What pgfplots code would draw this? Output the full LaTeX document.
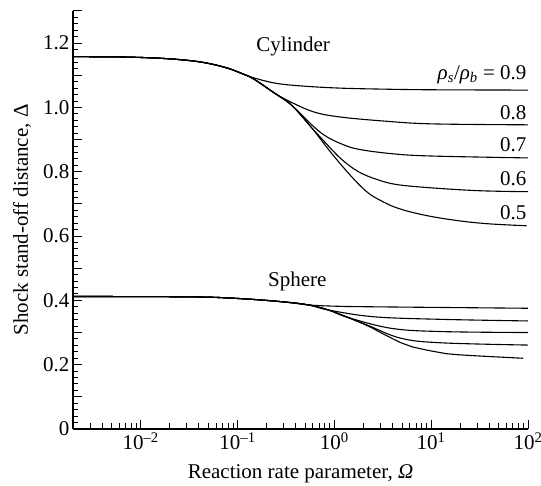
\documentclass[border=0pt]{standalone}
\usepackage{fontspec}
\setmainfont{Liberation Serif}
\usepackage{pgfplots}
\pgfplotsset{compat=1.18}

\newcommand{\fs}{\rmfamily\fontsize{21}{25}\selectfont}

\begin{document}
\begin{tikzpicture}[font=\fs]
% page frame around the axis
\path[use as bounding box] (-73pt,-57pt) rectangle (468pt,429pt);
\begin{axis}[
  at={(0pt,0pt)}, anchor=south west,
  scale only axis, width=455pt, height=418pt,
  xmode=log, xmin=0.002, xmax=100,
  ymin=0, ymax=1.3,
  axis lines*=left,
  axis line style={line width=1.8pt},
  tick style={line width=1pt, black},
  major tick length=9pt, minor tick length=5.5pt,
  tick align=inside,
  xtick={0.01,0.1,1,10,100},
  xticklabels={10\textsuperscript{–2},10\textsuperscript{–1},10\textsuperscript{0},10\textsuperscript{1},10\textsuperscript{2}},
  minor xtick={0.003,0.004,0.005,0.006,0.007,0.008,0.009,
               0.02,0.03,0.04,0.05,0.06,0.07,0.08,0.09,
               0.2,0.3,0.4,0.5,0.6,0.7,0.8,0.9,
               2,3,4,5,6,7,8,9,
               20,30,40,50,60,70,80,90},
  ytick={0,0.2,0.4,0.6,0.8,1.0,1.2},
  yticklabels={0,0.2,0.4,0.6,0.8,1.0,1.2},
  minor ytick={0,0.02,...,1.31},
  extra y ticks={0.1,0.3,0.5,0.7,0.9,1.1,1.3},
  extra y tick labels={},
  extra y tick style={major tick length=9pt},
  tick label style={font=\fs},
  label style={font=\fs},
  xlabel={Reaction rate parameter, \textit{Ω}},
  ylabel={Shock stand-off distance, Δ},
  xlabel style={at={(axis description cs:0.5,-0.1196)}, anchor=base},
  ylabel style={at={(axis description cs:-0.099,0.5)}, anchor=base},
  clip=true,
  cycle list={{black, solid, mark=none}},
  every axis plot/.append style={line width=1.1pt, smooth, tension=0.6},
]

% ---------------- Cylinder ----------------
% rho_s/rho_b = 0.9
\addplot coordinates {(0.002,1.158) (0.0063,1.157) (0.0158,1.153) (0.0316,1.146)
  (0.0501,1.137) (0.0794,1.122) (0.112,1.105) (0.148,1.092) (0.251,1.075)
  (0.501,1.066) (1.175,1.060) (3.162,1.057) (10,1.055) (100,1.054)};
% 0.8
\addplot coordinates {(0.002,1.158) (0.0063,1.157) (0.0158,1.153) (0.0316,1.146)
  (0.0501,1.137) (0.0794,1.122) (0.112,1.105) (0.148,1.088) (0.24,1.045)
  (0.359,1.016) (0.631,0.985) (1.175,0.970) (3.162,0.958) (10,0.949) (100,0.946)};
% 0.7
\addplot coordinates {(0.002,1.158) (0.0063,1.157) (0.0158,1.153) (0.0316,1.146)
  (0.0501,1.137) (0.0794,1.122) (0.112,1.105) (0.148,1.088) (0.24,1.045)
  (0.359,1.008) (0.575,0.948) (0.794,0.913) (1.175,0.887) (1.778,0.870)
  (3.98,0.856) (10,0.849) (100,0.843)};
% 0.6
\addplot coordinates {(0.002,1.158) (0.0063,1.157) (0.0158,1.153) (0.0316,1.146)
  (0.0501,1.137) (0.0794,1.122) (0.112,1.105) (0.148,1.088) (0.24,1.045)
  (0.359,1.008) (0.575,0.939) (0.794,0.893) (1.175,0.840) (1.778,0.800)
  (2.818,0.775) (4.47,0.760) (10,0.750) (31.6,0.741) (100,0.738)};
% 0.5
\addplot coordinates {(0.002,1.158) (0.0063,1.157) (0.0158,1.153) (0.0316,1.146)
  (0.0501,1.137) (0.0794,1.122) (0.112,1.105) (0.148,1.088) (0.24,1.045)
  (0.359,1.008) (0.575,0.939) (0.933,0.858) (1.514,0.784) (2.239,0.734)
  (3.162,0.707) (3.89,0.694) (5.62,0.678) (10,0.661) (20,0.647) (39.8,0.638) (96.6,0.632)};

% ---------------- Sphere ----------------
% 0.9
\addplot coordinates {(0.002,0.412) (0.0316,0.411) (0.1,0.406) (0.282,0.396)
  (0.537,0.386) (1,0.382) (2.57,0.380) (100,0.3755)};
% 0.8
\addplot coordinates {(0.002,0.412) (0.0316,0.411) (0.1,0.406) (0.282,0.396)
  (0.537,0.386) (0.871,0.370) (2.57,0.349) (12.8,0.341) (100,0.336)};
% 0.7
\addplot coordinates {(0.002,0.412) (0.0316,0.411) (0.1,0.406) (0.282,0.396)
  (0.537,0.386) (0.871,0.370) (1.38,0.347) (3.89,0.313) (12.8,0.303) (100,0.300)};
% 0.6
\addplot coordinates {(0.002,0.412) (0.0316,0.411) (0.1,0.406) (0.282,0.396)
  (0.537,0.386) (0.871,0.370) (1.38,0.347) (2.239,0.322) (4.9,0.282)
  (12.8,0.268) (100,0.261)};
% 0.5
\addplot coordinates {(0.002,0.412) (0.0316,0.411) (0.1,0.406) (0.282,0.396)
  (0.537,0.386) (0.871,0.370) (1.38,0.347) (2.239,0.320) (3.09,0.298)
  (4.9,0.268) (6.3,0.256) (11.2,0.240) (19.05,0.231) (89.1,0.220)};

% annotations
\node[font=\fs, anchor=base] at (axis cs:0.376,1.173) {Cylinder};
\node[font=\fs, anchor=base] at (axis cs:0.414,0.442) {Sphere};
\node[font=\fs, anchor=base east, inner sep=0pt] at (axis cs:96.7,1.086)
  {\textit{ρ}\textsubscript{\textit{s}}/\textit{ρ}\textsubscript{\textit{b}} = 0.9};
\node[font=\fs, anchor=base east, inner sep=0pt] at (axis cs:96.7,0.961) {0.8};
\node[font=\fs, anchor=base east, inner sep=0pt] at (axis cs:96.7,0.862) {0.7};
\node[font=\fs, anchor=base east, inner sep=0pt] at (axis cs:96.7,0.756) {0.6};
\node[font=\fs, anchor=base east, inner sep=0pt] at (axis cs:96.7,0.653) {0.5};
\end{axis}
\end{tikzpicture}
\end{document}
